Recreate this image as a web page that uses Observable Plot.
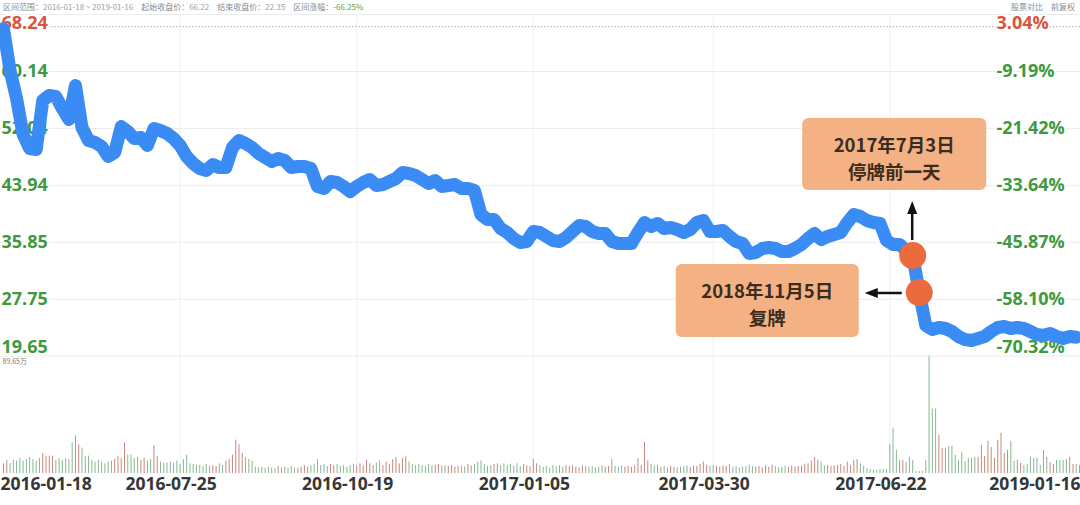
<!DOCTYPE html>
<html>
<head>
<meta charset="utf-8">
<script src="https://cdn.jsdelivr.net/npm/d3@7"></script>
<script src="https://cdn.jsdelivr.net/npm/@observablehq/plot@0.6"></script>
<style>
  html, body { margin: 0; padding: 0; background: #fff; }
  #chart { position: relative; width: 1080px; height: 505px; overflow: hidden; font-family: "Open Sans", "Noto Sans CJK SC", sans-serif; }
  #chart svg { position: absolute; left: 0; top: 0; }
  .hdr { position: absolute; top: 1px; font-size: 8px; line-height: 11px; color: #8c8c8c; white-space: nowrap; font-family: "Noto Sans CJK SC", sans-serif; }
  .hdr .v { color: #a0a0a0; }
  .hdr .dn { color: #4fa24f; }
</style>
</head>
<body>
<div id="chart"></div>
<script>
// ---- data -------------------------------------------------------------
// closing price, one value every second trading session (session index = 2 * k)
const closes = [
  66.22, 60.28, 56.29, 51.17, 49.18, 49.04, 56.01, 56.72, 56.58, 54.87,
  53.31, 58.14, 52.17, 50.32, 50.04, 49.47, 48.05, 48.62, 52.3, 51.6,
  50.61, 50.75, 49.61, 52.03, 51.74, 51.32, 50.61, 49.61, 48.05, 47.05,
  46.34, 46.06, 46.91, 46.48, 46.48, 49.33, 50.32, 49.9, 49.33, 48.47,
  47.9, 47.34, 47.76, 47.48, 46.48, 46.62, 46.62, 46.34, 43.78, 43.5,
  44.49, 44.35, 43.78, 43.07, 43.78, 44.35, 44.78, 43.92, 44.06, 44.49,
  44.92, 45.77, 45.63, 45.35, 44.78, 44.21, 44.63, 43.78, 43.92, 44.06,
  43.5, 43.5, 43.21, 39.8, 39.09, 39.09, 37.81, 37.24, 36.39, 35.82,
  35.96, 37.38, 37.24, 36.67, 36.1, 35.96, 36.53, 37.38, 38.23, 38.09,
  37.38, 37.1, 37.1, 35.96, 35.67, 35.67, 35.67, 37.24, 38.66, 38.09,
  38.52, 37.81, 37.95, 37.67, 37.24, 37.67, 38.66, 38.95, 37.38, 37.38,
  37.52, 36.67, 35.96, 35.67, 34.25, 34.39, 34.96, 35.1, 34.96, 34.54,
  34.54, 34.96, 35.53, 36.39, 37.1, 36.24, 36.67, 36.96, 37.24, 38.66,
  39.8, 39.51, 38.95, 38.66, 38.52, 36.1, 35.53, 35.53, 34.68, 33.97,
  28.71, 24.01, 23.44, 23.73, 23.59, 23.16, 22.45, 22.02, 21.88, 22.17,
  22.45, 23.16, 23.73, 23.87, 23.59, 23.73, 23.59, 23.16, 22.73, 22.59,
  22.88, 22.45, 22.17, 22.45, 22.35
];

// daily volume (万股), one value per trading session
const volumes = [
  7.4, 10, 7.4, 10, 9.5, 11.4, 9.5, 10.6, 12.1, 10.6,
  9.5, 11.4, 15.3, 12.7, 13.2, 13.2, 10, 11.4, 10, 11.4,
  10.6, 23.2, 28.5, 21.9, 19.3, 12.7, 13.2, 10, 8.7, 10,
  8.7, 7.4, 8.7, 9.5, 10.6, 12.7, 11.4, 23.2, 14, 14,
  11.4, 12.1, 10, 11.4, 9.5, 10.6, 21.1, 12.7, 8.7, 7.9,
  7.9, 8.7, 7.9, 9.5, 6.9, 10.6, 14, 7.4, 6.9, 6.1,
  6.1, 5.3, 6.9, 5.3, 6.1, 5.3, 7.4, 6.1, 9.5, 10.6,
  14, 25.3, 21.9, 15.3, 12.1, 10.6, 9.5, 4.8, 4.2, 4.8,
  4, 4.8, 4.2, 4, 5.3, 4.2, 4.8, 4, 5.3, 4.2,
  4, 4.8, 6.1, 4.8, 5.8, 6.9, 10.6, 6.1, 6.9, 5.3,
  6.9, 5.8, 6.9, 5.3, 6.1, 4.8, 6.1, 6.9, 5.8, 7.4,
  5.8, 10, 7.4, 6.1, 7.9, 9.5, 6.1, 8.7, 6.9, 10.6,
  12.1, 7.4, 11.4, 12.7, 8.7, 6.9, 6.1, 6.9, 6.1, 5.3,
  6.9, 5.8, 6.1, 6.9, 5.8, 6.1, 5.3, 6.1, 4.8, 5.3,
  5.8, 4.8, 6.9, 5.8, 6.9, 8.7, 9.5, 6.9, 5.3, 6.1,
  6.9, 7.4, 6.1, 7.4, 6.1, 6.9, 5.8, 7.4, 5.3, 6.9,
  5.8, 5.3, 10.6, 7.4, 6.1, 4.8, 5.3, 4.2, 6.1, 5.3,
  5.8, 4.8, 6.1, 5.3, 5.8, 4.8, 4.2, 5.8, 5.3, 4.8,
  5.3, 4.2, 4.8, 5.8, 4.8, 5.3, 10.6, 5.3, 4.8, 5.8,
  4.8, 5.3, 4.8, 5.8, 11.4, 6.1, 23.8, 9.5, 6.9, 5.8,
  6.1, 4.8, 5.3, 4.2, 5.3, 4.8, 4.2, 4.8, 5.3, 5.8,
  4.8, 5.8, 5.3, 6.9, 8.7, 6.1, 5.3, 5.8, 5.3, 4.8,
  5.8, 5.3, 6.9, 4.8, 5.3, 4.2, 4.8, 5.3, 6.3, 5.3,
  4.8, 5.3, 4.2, 5.8, 4.8, 6.3, 5.3, 4.2, 4.8, 5.3,
  4.8, 5.8, 4.8, 5.3, 5.8, 6.9, 7.4, 9.5, 12.1, 10,
  8.7, 5.8, 6.1, 5.3, 5.8, 6.1, 6.9, 5.3, 8.7, 5.8,
  10, 10.6, 7.4, 5.4, 3.8, 3.1, 2.3, 2.3, 3.1, 3.1,
  3.1, 22.2, 34.5, 17.6, 10, 10, 8.4, 12.3, 10, 1.5,
  1.5, 1.5, 10, 89.65, 49, 49, 29.1, 19.2, 19.2, 20.7,
  20.7, 13.8, 10, 16.1, 9.2, 11.5, 11.5, 12.3, 12.3, 21.4,
  13, 24.5, 19.9, 11.5, 25.3, 30.6, 15.3, 17.6, 24.5, 9.2,
  10, 7.7, 6.1, 6.9, 12.3, 11.5, 11.5, 6.1, 17.6, 12.3,
  8.4, 6.9, 10, 10, 10, 10.7, 12.3, 6.9, 6.9, 6.1
];

// price axis ticks and the matching change versus the first close
const priceTicks = [68.24, 60.14, 52.04, 43.94, 35.85, 27.75, 19.65];
const pctTicks = ["3.04%", "-9.19%", "-21.42%", "-33.64%", "-45.87%", "-58.10%", "-70.32%"];

// date axis: session index and label
const dateTickIdx = [0, 54, 108, 162, 217, 271, 329];
const dateTickLabels = ["2016-01-18", "2016-07-25", "2016-10-19", "2017-01-05", "2017-03-30", "2017-06-22", "2019-01-16"];

// suspension events: session index and note
const eventIdx = [278, 280];
const eventNotes = [["2017年7月3日", "停牌前一天"], ["2018年11月5日", "复牌"]];

// ---- derived tables ---------------------------------------------------
const priceRows = closes.map((c, k) => ({i: 2 * k, close: c}));
const volRows = volumes.map((v, i) => {
  const k = Math.floor(i / 2);
  const up = k === 0 ? true : closes[k] >= closes[k - 1];
  return {i, vol: v, up};
});
const tickRows = priceTicks.map((v, j) => ({v, pct: pctTicks[j]}));
const dateRows = dateTickIdx.map((i, j) => ({i, label: dateTickLabels[j]}));
const eventRows = eventIdx.map((i, j) => ({i, close: closes[i / 2], note: eventNotes[j]}));

const W = 1080, H = 505;
const X = {domain: [0, 329], range: [3, 1079], axis: null};
const GREEN = "#3f9a3f", RED = "#d8553c", BLUE = "#3b8bf5", DOT = "#eb6a3e";
const label = {fontFamily: "Open Sans", fontWeight: 700, fontSize: 18, stroke: "white", strokeWidth: 3};
const dateFont = {fontFamily: "Open Sans", fontWeight: 700, fontSize: 17.5, fill: "#363636"};
const gridIdx = dateTickIdx.slice(1, -1);

// ---- header -----------------------------------------------------------
const chart = document.getElementById("chart");
const startClose = closes[0], endClose = closes[closes.length - 1];
const change = (endClose / startClose - 1) * 100;
chart.insertAdjacentHTML("beforeend",
  `<div class="hdr" style="left:3px">区间范围：<span class="v">${dateTickLabels[0]} ~ ${dateTickLabels[dateTickLabels.length - 1]}</span>　起始收盘价：<span class="v">${startClose.toFixed(2)}</span>　结束收盘价：<span class="v">${endClose.toFixed(2)}</span>　区间涨幅：<span class="dn">${change.toFixed(2)}%</span></div>
   <div class="hdr" style="right:5px">股票对比　前复权</div>`);

// ---- volume panel -----------------------------------------------------
const volPlot = Plot.plot({
  width: W, height: H,
  marginTop: 355, marginBottom: 32, marginLeft: 0, marginRight: 0,
  style: {background: "transparent", overflow: "visible"},
  x: X,
  y: {domain: [0, d3.max(volumes)], axis: null},
  marks: [
    Plot.ruleX(gridIdx, {stroke: "#efefef"}),
    Plot.ruleX(volRows, {x: "i", y1: 0, y2: "vol", stroke: d => d.up ? "#c8877d" : "#86b893", strokeWidth: 1}),
    Plot.text([d3.max(volumes)], {frameAnchor: "top-left", text: d => `${d}万`, dx: 2, dy: 4, lineAnchor: "top", textAnchor: "start", fontSize: 7, fill: "#777", fontFamily: "Noto Sans CJK SC"}),
    Plot.text(dateRows.slice(0, 1), {x: "i", text: "label", frameAnchor: "bottom", lineAnchor: "top", textAnchor: "start", dx: -3, dy: 4, ...dateFont}),
    Plot.text(dateRows.slice(1, -1), {x: "i", text: "label", frameAnchor: "bottom", lineAnchor: "top", textAnchor: "middle", dx: -9, dy: 4, ...dateFont}),
    Plot.text(dateRows.slice(-1), {x: "i", text: "label", frameAnchor: "bottom", lineAnchor: "top", textAnchor: "end", dx: 1, dy: 4, ...dateFont})
  ]
});
chart.appendChild(volPlot);

// ---- price panel ------------------------------------------------------
const pricePlot = Plot.plot({
  width: W, height: H,
  marginTop: 14, marginBottom: 149.3, marginLeft: 0, marginRight: 0,
  style: {background: "transparent", overflow: "visible"},
  x: X,
  y: {domain: [priceTicks[priceTicks.length - 1], priceTicks[0]], axis: null},
  marks: [
    Plot.ruleY(priceTicks, {stroke: "#ececec"}),
    Plot.ruleX(gridIdx, {stroke: "#efefef"}),
    Plot.ruleY([d3.max(closes)], {stroke: "#9a9a9a", strokeDasharray: "1.2,2", dy: -2}),
    // left: price
    Plot.text(tickRows.slice(0, 1), {y: "v", text: d => d.v.toFixed(2), frameAnchor: "left", textAnchor: "start", lineAnchor: "top", dx: 1, dy: 2, fill: RED, ...label}),
    Plot.text(tickRows.slice(1, -1), {y: "v", text: d => d.v.toFixed(2), frameAnchor: "left", textAnchor: "start", lineAnchor: "middle", dx: 1, fill: GREEN, ...label}),
    Plot.text(tickRows.slice(-1), {y: "v", text: d => d.v.toFixed(2), frameAnchor: "left", textAnchor: "start", lineAnchor: "bottom", dx: 1, dy: -3, fill: GREEN, ...label}),
    // right: change in percent
    Plot.text(tickRows.slice(0, 1), {y: "v", text: "pct", frameAnchor: "right", textAnchor: "start", lineAnchor: "top", dx: -84, dy: 2, fill: RED, ...label}),
    Plot.text(tickRows.slice(1, -1), {y: "v", text: "pct", frameAnchor: "right", textAnchor: "start", lineAnchor: "middle", dx: -84, fill: GREEN, ...label}),
    Plot.text(tickRows.slice(-1), {y: "v", text: "pct", frameAnchor: "right", textAnchor: "start", lineAnchor: "bottom", dx: -84, dy: -3, fill: GREEN, ...label}),
    // closing price
    Plot.line(priceRows, {x: "i", y: "close", stroke: BLUE, strokeWidth: 13, strokeLinejoin: "round", strokeLinecap: "round"}),
    Plot.dot(eventRows, {x: "i", y: "close", r: 13.5, fill: DOT})
  ]
});
chart.appendChild(pricePlot);

// ---- event notes: boxes and arrows anchored on the event dots -----------
const sx = pricePlot.scale("x"), sy = pricePlot.scale("y");
const svg = d3.select(pricePlot);
const layout = [
  {box: [-110, -137, 184, 72], arrow: "up"},
  {box: [-243, -28, 183, 73], arrow: "left"}
];
eventRows.forEach((e, j) => {
  const cx = sx.apply(e.i), cy = sy.apply(e.close);
  const [bx, by, bw, bh] = layout[j].box;
  const g = svg.append("g");
  g.append("rect")
    .attr("x", cx + bx).attr("y", cy + by).attr("width", bw).attr("height", bh)
    .attr("rx", 6).attr("fill", "#f4b183");
  e.note.forEach((t, n) => {
    g.append("text")
      .attr("x", cx + bx + bw / 2).attr("y", cy + by + bh / 2 + (n === 0 ? -10 : 17))
      .attr("text-anchor", "middle").attr("dominant-baseline", "central")
      .attr("font-family", "Noto Sans CJK SC").attr("font-weight", 700).attr("font-size", 18.5)
      .attr("fill", "#3b2c22").text(t);
  });
  let shaft, head;
  if (layout[j].arrow === "up") {
    shaft = [[cx, cy - 15], [cx, cy - 44]];
    head = [[cx, cy - 54], [cx - 5, cy - 41], [cx + 5, cy - 41]];
  } else {
    shaft = [[cx - 17, cy + 1], [cx - 44, cy + 1]];
    head = [[cx - 54, cy + 1], [cx - 41, cy - 4], [cx - 41, cy + 6]];
  }
  g.append("line")
    .attr("x1", shaft[0][0]).attr("y1", shaft[0][1]).attr("x2", shaft[1][0]).attr("y2", shaft[1][1])
    .attr("stroke", "#111").attr("stroke-width", 2.5);
  g.append("polygon").attr("points", head.map(p => p.join(",")).join(" ")).attr("fill", "#111");
});
</script>
</body>
</html>
